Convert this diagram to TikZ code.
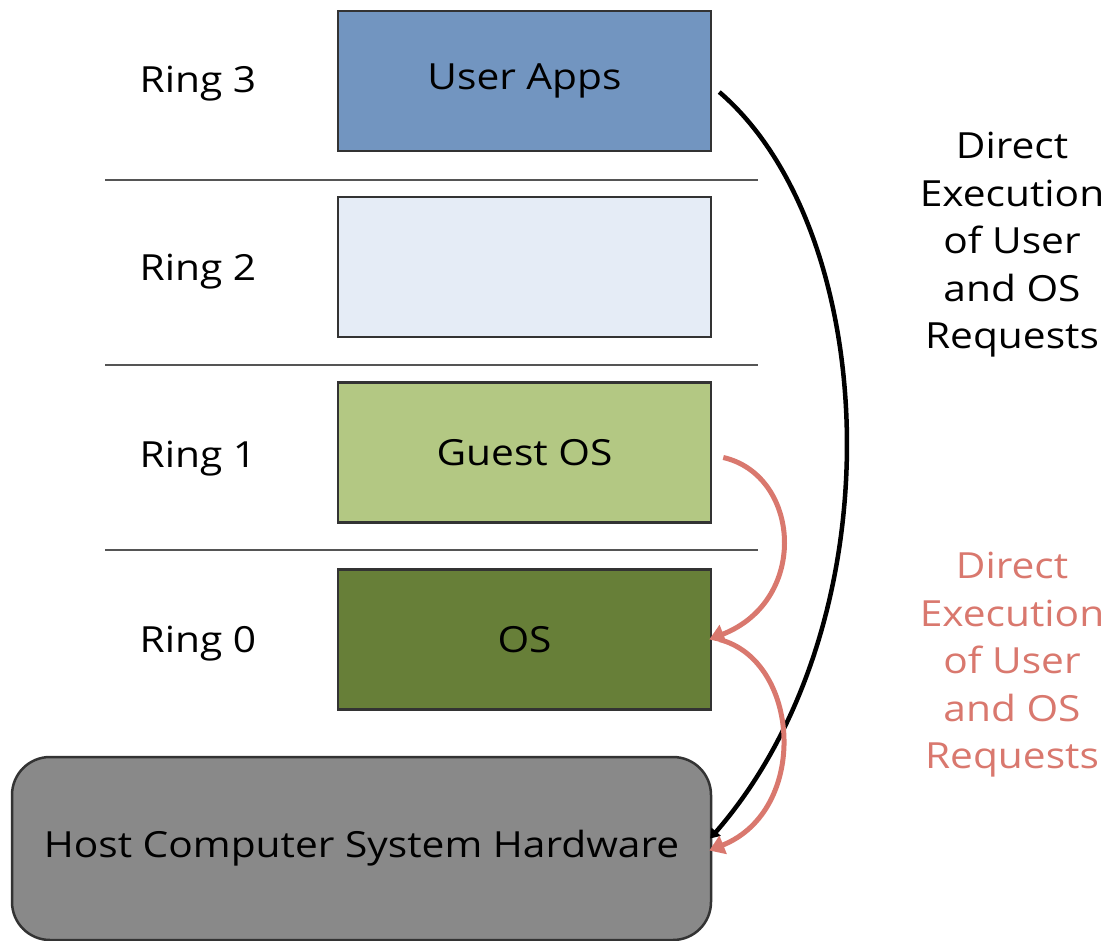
\documentclass[tikz,border=0pt]{standalone}
\usepackage{fontspec}
\setmainfont[FakeStretch=1.13]{Open Sans}
\usetikzlibrary{arrows.meta}
\definecolor{appblue}{HTML}{7295C0}
\definecolor{ringpale}{HTML}{E5ECF6}
\definecolor{guestgreen}{HTML}{B3C883}
\definecolor{osgreen}{HTML}{677F38}
\definecolor{hostgray}{HTML}{898989}
\definecolor{reqred}{HTML}{D9786E}
\definecolor{rulegray}{HTML}{555555}
\tikzset{
  ringbox/.style={draw=black!80, line width=2.5pt, minimum width=373pt, minimum height=140pt, inner sep=0pt},
  ringlabel/.style={inner sep=0pt},
  separator/.style={draw=rulegray, line width=2.5pt},
  directblack/.style={line width=4.5pt, black, -{Triangle[length=9pt,width=12pt]}},
  directred/.style={line width=5pt, reqred, -{Triangle[length=15pt,width=19pt]}},
  sidenote/.style={align=center, inner sep=0pt},
}
\begin{document}
\begin{tikzpicture}[x=1pt, y=-1pt, font=\fontsize{36}{47.5}\selectfont]
\useasboundingbox (0,0) rectangle (1114,941);

% privilege rings
\node[ringbox, fill=appblue] (ua) at (524.5,81) {User Apps};
\node[ringbox, fill=ringpale] (r2) at (524.5,267) {};
\node[ringbox, fill=guestgreen] (guest) at (524.5,452.5) {Guest OS};
\node[ringbox, fill=osgreen] (os) at (524.5,639.5) {OS};
\node[draw=black!80, line width=2.5pt, fill=hostgray, rounded corners=38pt,
      minimum width=699pt, minimum height=183pt, inner sep=0pt] (host) at (361.5,848.5)
      {Host Computer System Hardware};

\node[ringlabel] (l3) at (198,84) {Ring 3};
\node[ringlabel] (l2) at (198,272) {Ring 2};
\node[ringlabel] (l1) at (198,459) {Ring 1};
\node[ringlabel] (l0) at (198,644) {Ring 0};

% ring boundaries
\draw[separator] (105,180) -- (758,180);
\draw[separator] (105,365) -- (758,365);
\draw[separator] (105,550) -- (758,550);

% execution paths
\draw[directblack] ([shift={(7,11)}]ua.east)
  .. controls (880,230) and (900,620) .. ([shift={(-2,-10)}]host.east);
\draw[directred] ([shift={(11,5)}]guest.east)
  .. controls (800,475) and (810,600) .. ([shift={(-3,0)}]os.east);
\draw[directred] ([shift={(7,0)}]os.east)
  .. controls (800,660) and (810,810) .. ([shift={(-3,2)}]host.east);

% annotations
\node[sidenote] (n1) at (1012,245) {Direct\\Execution\\of User\\and OS\\Requests};
\node[sidenote, text=reqred] (n2) at (1012,665) {Direct\\Execution\\of User\\and OS\\Requests};
\end{tikzpicture}
\end{document}
